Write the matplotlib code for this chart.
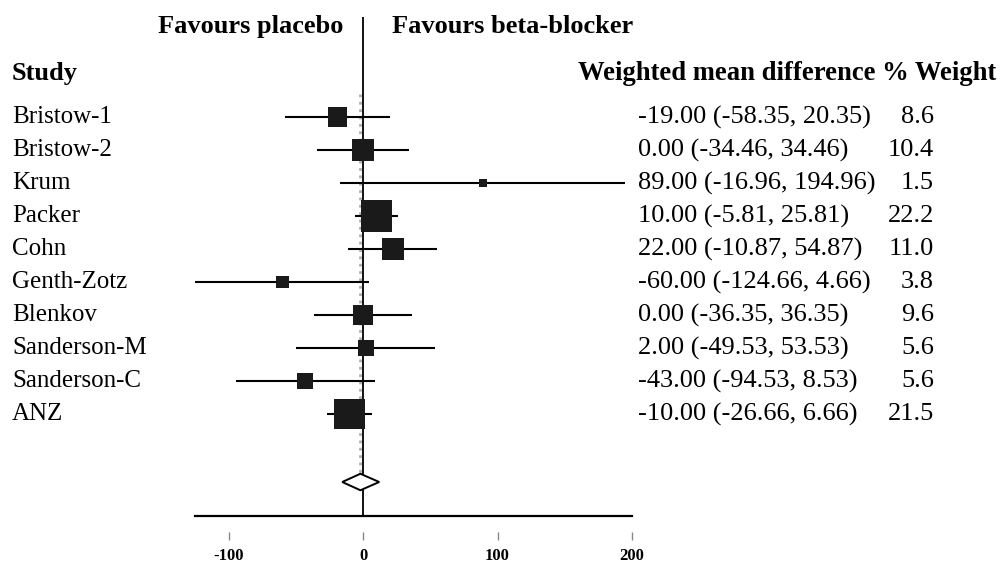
import matplotlib
matplotlib.use('Agg')
import matplotlib.pyplot as plt
from matplotlib.transforms import blended_transform_factory
from matplotlib.patches import Polygon

# study data
studies = ['Bristow-1', 'Bristow-2', 'Krum', 'Packer', 'Cohn', 'Genth-Zotz',
           'Blenkov', 'Sanderson-M', 'Sanderson-C', 'ANZ']
est = [-19.00, 0.00, 89.00, 10.00, 22.00, -60.00, 0.00, 2.00, -43.00, -10.00]
lo = [-58.35, -34.46, -16.96, -5.81, -10.87, -124.66, -36.35, -49.53, -94.53, -26.66]
hi = [20.35, 34.46, 194.96, 25.81, 54.87, 4.66, 36.35, 53.53, 8.53, 6.66]
weight = [8.6, 10.4, 1.5, 22.2, 11.0, 3.8, 9.6, 5.6, 5.6, 21.5]

# pooled estimate (diamond)
pooled_est = -2.0
pooled_lo = -15.5
pooled_hi = 12.0

xticks = [-100, 0, 100, 200]

W, H = 1004, 563
fig = plt.figure(figsize=(W / 100, H / 100), dpi=100)

# axes placed so its bottom spine is the drawn x axis line
ax_left, ax_right = 195, 632
ax_top, ax_bot = 17, 516
ax = fig.add_axes([ax_left / W, 1 - ax_bot / H, (ax_right - ax_left) / W, (ax_bot - ax_top) / H])
ax.set_xlim(-125, 200)
ax.set_ylim(12.09, -3.03)

for s in ['top', 'left', 'right']:
    ax.spines[s].set_visible(False)
ax.spines['bottom'].set_linewidth(1.6)
ax.set_yticks([])

serif = 'Liberation Serif'

ax.set_xticks(xticks)
ax.set_xticklabels([str(t) for t in xticks], fontfamily=serif, fontweight='bold', fontsize=12)
ax.tick_params(axis='x', length=0, pad=23)
ax.vlines(xticks, 12.58, 12.82, color='#888888', lw=1.0, clip_on=False)

rows = list(range(len(studies)))

# reference lines
ax.vlines(0, -3.03, 12.09, color='black', lw=1.3, clip_on=False, zorder=3)
ax.vlines(pooled_est, -0.7, 10.8, color='#b0b0b0', lw=2.0, linestyles=':', zorder=2)

# confidence intervals and weighted boxes
ax.hlines(rows, lo, hi, color='black', lw=1.5, zorder=4)
sizes = [22.6 * w for w in weight]
ax.scatter(est, rows, s=sizes, marker='s', color='#1a1a1a', linewidths=0, zorder=5)

# pooled diamond
yd = 11.06
dh = 0.25
diamond = Polygon([(pooled_lo, yd), (pooled_est, yd - dh), (pooled_hi, yd), (pooled_est, yd + dh)],
                  closed=True, facecolor='white', edgecolor='black', lw=1.4, zorder=4)
ax.add_patch(diamond)

# text columns, x in figure pixels, y in rows
tr = blended_transform_factory(fig.transFigure, ax.transData)

for i in rows:
    ax.text(12 / W, i, studies[i], transform=tr, ha='left', va='center',
            fontfamily=serif, fontsize=18, clip_on=False)
    ax.text(638 / W, i, '%.2f (%.2f, %.2f)' % (est[i], lo[i], hi[i]), transform=tr,
            ha='left', va='center', fontfamily=serif, fontsize=19, clip_on=False)
    ax.text(934 / W, i, '%.1f' % weight[i], transform=tr, ha='right', va='center',
            fontfamily=serif, fontsize=19, clip_on=False)

ax.text(12 / W, -1.33, 'Study', transform=tr, ha='left', va='center',
        fontfamily=serif, fontweight='bold', fontsize=19, clip_on=False)
ax.text(578 / W, -1.33, 'Weighted mean difference % Weight', transform=tr, ha='left', va='center',
        fontfamily=serif, fontweight='bold', fontsize=19.2, clip_on=False)
ax.text(343 / W, -2.73, 'Favours placebo', transform=tr, ha='right', va='center',
        fontfamily=serif, fontweight='bold', fontsize=19, clip_on=False)
ax.text(392 / W, -2.73, 'Favours beta-blocker', transform=tr, ha='left', va='center',
        fontfamily=serif, fontweight='bold', fontsize=19, clip_on=False)

fig.savefig('out.png', dpi=100)
